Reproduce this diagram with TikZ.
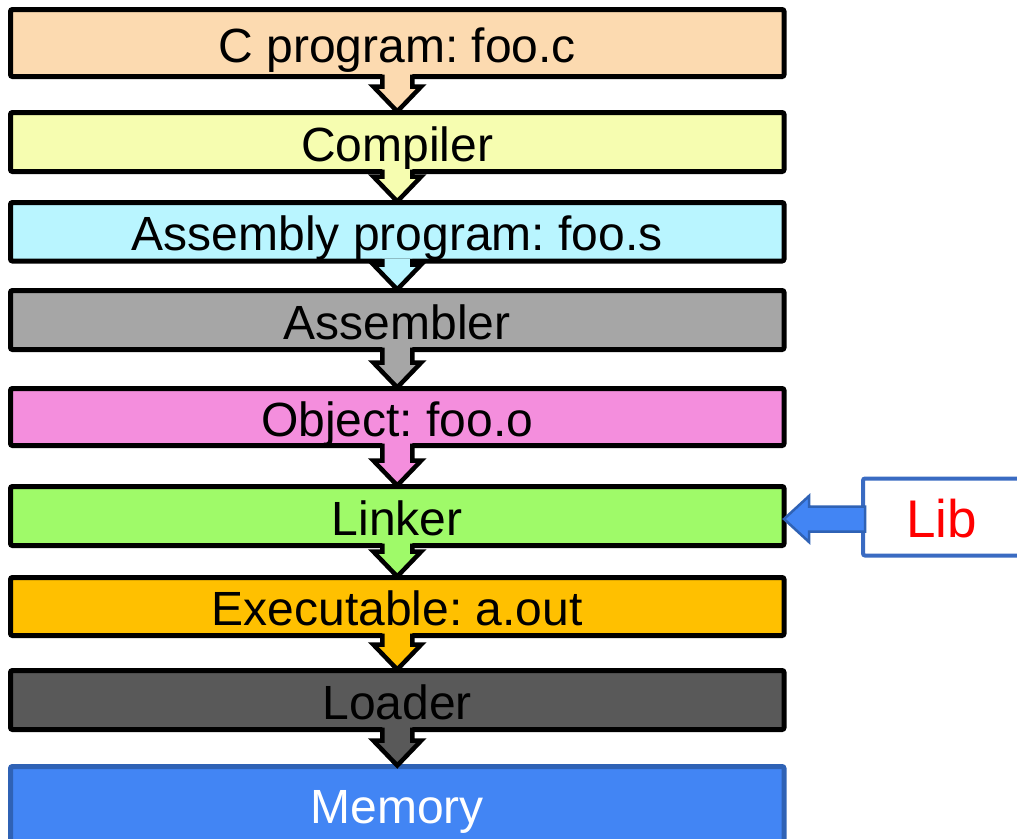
\documentclass[tikz,border=0pt]{standalone}
\usepackage{fontspec}
\setmainfont{Liberation Sans}
\usetikzlibrary{calc}
\frenchspacing
\definecolor{cpeach}{HTML}{FCDAB0}
\definecolor{cyellow}{HTML}{F6FDB0}
\definecolor{ccyan}{HTML}{B9F5FF}
\definecolor{cgray}{HTML}{A6A6A6}
\definecolor{cpink}{HTML}{F48EDD}
\definecolor{cgreen}{HTML}{9FFA69}
\definecolor{corange}{HTML}{FFC000}
\definecolor{cdark}{HTML}{595959}
\definecolor{cblue}{HTML}{4285F4}
\definecolor{cbluedark}{HTML}{2F62B5}
\definecolor{clibborder}{HTML}{3A6BC2}
\newcommand\flowarrow[3]{%
  \fill[#3] let \p1=(#1.south), \p2=(#2.north) in
    (\x1-15pt,\y1+2.5pt) -- (\x1-15pt,\y2+26pt) -- (\x1-24pt,\y2+26pt) -- (\x1,\y2+1pt)
    -- (\x1+24pt,\y2+26pt) -- (\x1+15pt,\y2+26pt) -- (\x1+15pt,\y1+2.5pt) -- cycle;
  \draw[arrowline] let \p1=(#1.south), \p2=(#2.north) in
    (\x1-15pt,\y1+2pt) -- (\x1-15pt,\y2+26pt) -- (\x1-24pt,\y2+26pt) -- (\x1,\y2+1pt)
    -- (\x1+24pt,\y2+26pt) -- (\x1+15pt,\y2+26pt) -- (\x1+15pt,\y1+2pt);
}
\begin{document}
\begin{tikzpicture}[x=1pt,y=-1pt,
  stage/.style={draw=black, line width=5pt, rounded corners=2pt, outer sep=0pt,
    minimum width=773.5pt, inner sep=0pt,
    font=\fontsize{48}{48}\selectfont, text height=38pt, text depth=0pt},
  arrowline/.style={draw=black, line width=4.5pt, line join=miter}]
\useasboundingbox (0,0) rectangle (1017,838);
\clip (0,0) rectangle (1017,838);
\node[stage, fill=cpeach,  minimum height=67pt]   (cprog) at (397.25,43)    {C program: foo.c};
\node[stage, fill=cyellow, minimum height=59pt]   (comp)  at (397.25,142)   {Compiler};
\node[stage, fill=ccyan,   minimum height=58.5pt] (asm)   at (397.25,231.75){Assembly program: foo.s};
\node[stage, fill=cgray,   minimum height=59pt]   (asmr)  at (397.25,320)   {Assembler};
\node[stage, fill=cpink,   minimum height=57pt]   (obj)   at (397.25,417)   {Object: foo.o};
\node[stage, fill=cgreen,  minimum height=59pt]   (link)  at (397.25,516)   {Linker};
\node[stage, fill=corange, minimum height=58pt]   (exe)   at (397.25,606.5) {Executable: a.out};
\node[stage, fill=cdark,   minimum height=59pt]   (load)  at (397.25,700)   {Loader};
\node[stage, draw=cbluedark, fill=cblue, text=white, minimum height=75pt] (mem) at (397.25,804) {Memory};
\node[draw=clibborder, line width=4pt, rounded corners=2pt, fill=white, outer sep=0pt,
  minimum width=157pt, minimum height=77pt, inner sep=0pt, text=red,
  font=\fontsize{53}{53}\selectfont, text height=40pt, text depth=0pt] (lib) at (941.5,517) {Lib};
\flowarrow{cprog}{comp}{cpeach}
\flowarrow{comp}{asm}{cyellow}
\flowarrow{asm}{asmr}{ccyan}
\flowarrow{asmr}{obj}{cgray}
\flowarrow{obj}{link}{cpink}
\flowarrow{link}{exe}{cgreen}
\flowarrow{exe}{load}{corange}
\flowarrow{load}{mem}{cdark}
\filldraw[fill=cblue, draw=cbluedark, line width=2.5pt, line join=miter]
  let \p1=(lib.west), \p2=(link.east) in
  (\x1+2pt,\y1-2pt+12.5pt) -- (\x2+25pt,\y1-2pt+12.5pt) -- (\x2+25pt,\y1-2pt+23pt) -- (\x2,\y1-2pt)
  -- (\x2+25pt,\y1-2pt-23pt) -- (\x2+25pt,\y1-2pt-12.5pt) -- (\x1+2pt,\y1-2pt-12.5pt) -- cycle;
\end{tikzpicture}
\end{document}
